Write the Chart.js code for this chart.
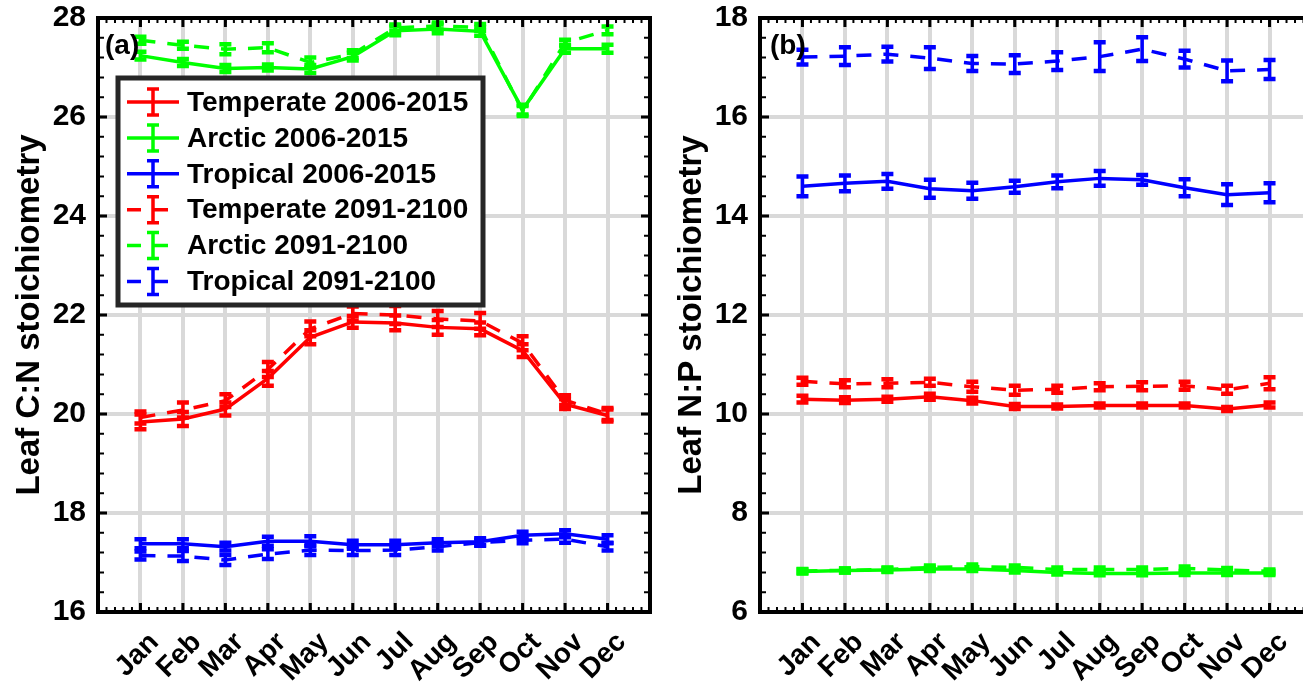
<!DOCTYPE html>
<html lang="en">
<head>
<meta charset="UTF-8">
<title>Leaf stoichiometry</title>
<script src="https://cdn.jsdelivr.net/npm/chart.js"></script>
<style>
    html, body { margin: 0; padding: 0; background: #fff; overflow: hidden; }
    .page { position: relative; width: 1303px; height: 685px; overflow: hidden; }
    .panel { position: absolute; top: 0; width: 660px; height: 685px; }
    #panelA { left: 0; }
    #panelB { left: 662px; }
</style>
</head>
<body>
<div class="page">
    <div class="panel" id="panelA"><canvas id="chartA" width="660" height="685"></canvas></div>
    <div class="panel" id="panelB"><canvas id="chartB" width="660" height="685"></canvas></div>
</div>
<script>
const months = ["Jan", "Feb", "Mar", "Apr", "May", "Jun", "Jul", "Aug", "Sep", "Oct", "Nov", "Dec"];
const seriesNames = ["Temperate 2006-2015", "Arctic 2006-2015", "Tropical 2006-2015",
                     "Temperate 2091-2100", "Arctic 2091-2100", "Tropical 2091-2100"];

// (a) leaf C:N
const cnTempNow    = [19.84, 19.90, 20.10, 20.72, 21.55, 21.86, 21.84, 21.75, 21.72, 21.28, 20.20, 19.97];
const cnTempNowErr = [0.15, 0.14, 0.13, 0.15, 0.14, 0.12, 0.15, 0.15, 0.13, 0.13, 0.10, 0.12];
const cnArcNow     = [27.24, 27.10, 26.98, 27.00, 26.97, 27.22, 27.74, 27.78, 27.73, 26.15, 27.38, 27.38];
const cnArcNowErr  = [0.08, 0.07, 0.07, 0.06, 0.08, 0.08, 0.09, 0.09, 0.09, 0.10, 0.08, 0.08];
const cnTropNow    = [17.38, 17.38, 17.32, 17.43, 17.43, 17.36, 17.36, 17.40, 17.42, 17.55, 17.58, 17.47];
const cnTropNowErr = [0.09, 0.09, 0.08, 0.09, 0.10, 0.08, 0.08, 0.07, 0.07, 0.07, 0.07, 0.08];
const cnTempFut    = [19.93, 20.08, 20.27, 20.90, 21.72, 22.03, 22.00, 21.92, 21.88, 21.43, 20.28, 20.00];
const cnTempFutErr = [0.12, 0.15, 0.13, 0.15, 0.15, 0.14, 0.18, 0.16, 0.16, 0.14, 0.10, 0.12];
const cnArcFut     = [27.55, 27.45, 27.37, 27.40, 27.10, 27.27, 27.80, 27.84, 27.81, 26.12, 27.50, 27.75];
const cnArcFutErr  = [0.07, 0.07, 0.10, 0.09, 0.10, 0.08, 0.07, 0.07, 0.07, 0.10, 0.06, 0.08];
const cnTropFut    = [17.14, 17.13, 17.05, 17.17, 17.25, 17.24, 17.25, 17.32, 17.40, 17.45, 17.47, 17.32];
const cnTropFutErr = [0.08, 0.10, 0.10, 0.10, 0.10, 0.09, 0.10, 0.08, 0.06, 0.06, 0.07, 0.08];

// (b) leaf N:P
const npTempNow    = [10.30, 10.28, 10.30, 10.35, 10.27, 10.15, 10.15, 10.17, 10.17, 10.17, 10.10, 10.18];
const npTempNowErr = [0.07, 0.06, 0.05, 0.06, 0.06, 0.05, 0.04, 0.04, 0.04, 0.04, 0.04, 0.05];
const npArcNow     = [6.82, 6.84, 6.85, 6.87, 6.87, 6.84, 6.80, 6.78, 6.78, 6.79, 6.79, 6.79];
const npArcNowErr  = [0.04, 0.04, 0.04, 0.04, 0.04, 0.04, 0.04, 0.04, 0.04, 0.04, 0.04, 0.04];
const npTropNow    = [14.60, 14.66, 14.70, 14.55, 14.51, 14.59, 14.69, 14.76, 14.73, 14.57, 14.43, 14.47];
const npTropNowErr = [0.20, 0.16, 0.15, 0.18, 0.16, 0.12, 0.13, 0.15, 0.10, 0.17, 0.21, 0.19];
const npTempFut    = [10.66, 10.61, 10.62, 10.64, 10.55, 10.48, 10.50, 10.55, 10.56, 10.57, 10.49, 10.62];
const npTempFutErr = [0.07, 0.07, 0.08, 0.07, 0.10, 0.09, 0.07, 0.07, 0.08, 0.08, 0.08, 0.12];
const npArcFut     = [6.83, 6.84, 6.86, 6.90, 6.92, 6.90, 6.86, 6.86, 6.86, 6.88, 6.85, 6.82];
const npArcFutErr  = [0.04, 0.04, 0.04, 0.04, 0.04, 0.04, 0.04, 0.04, 0.04, 0.04, 0.04, 0.04];
const npTropFut    = [17.21, 17.23, 17.27, 17.19, 17.08, 17.07, 17.13, 17.22, 17.37, 17.17, 16.93, 16.96];
const npTropFutErr = [0.15, 0.18, 0.15, 0.22, 0.15, 0.18, 0.18, 0.29, 0.24, 0.17, 0.21, 0.19];

const cnTicks = [16, 18, 20, 22, 24, 26, 28];
const npTicks = [6, 8, 10, 12, 14, 16, 18];

const RED = '#ff0000', GREEN = '#00ff00', BLUE = '#0000ff';
const DASH = [15, 12];
const FONT = "'Liberation Sans', Arial, Helvetica, sans-serif";
Chart.defaults.color = '#000';
Chart.defaults.font.family = FONT;

function makeDataset(label, values, errors, color, dashed) {
    return {
        label: label,
        data: values.map((v, i) => ({ x: i + 1, y: v })),
        errorBars: errors,
        borderColor: color,
        backgroundColor: color,
        borderWidth: 3.5,
        borderDash: dashed ? DASH : [],
        pointRadius: 0,
        tension: 0,
        fill: false
    };
}

// error bars drawn with the chart's own scales
const errorBarPlugin = {
    id: 'errorBars',
    afterDatasetsDraw(chart) {
        const { ctx, chartArea: a, scales: { x, y } } = chart;
        ctx.save();
        ctx.beginPath();
        ctx.rect(a.left, a.top, a.right - a.left, a.bottom - a.top);
        ctx.clip();
        ctx.setLineDash([]);
        chart.data.datasets.forEach((ds) => {
            if (!ds.errorBars) return;
            ctx.strokeStyle = ds.borderColor;
            ds.data.forEach((p, j) => {
                const px = x.getPixelForValue(p.x);
                const top = y.getPixelForValue(p.y + ds.errorBars[j]);
                const bot = y.getPixelForValue(p.y - ds.errorBars[j]);
                ctx.lineWidth = 3.5;
                ctx.beginPath();
                ctx.moveTo(px, top); ctx.lineTo(px, bot);
                ctx.stroke();
                ctx.lineWidth = 4.5;
                ctx.beginPath();
                ctx.moveTo(px - 6, top); ctx.lineTo(px + 6, top);
                ctx.moveTo(px - 6, bot); ctx.lineTo(px + 6, bot);
                ctx.stroke();
            });
        });
        ctx.restore();
    }
};

// black box with inward ticks, panel letter, legend
const framePlugin = {
    id: 'frame',
    afterDraw(chart, args, opts) {
        const { ctx, chartArea: a, scales: { x, y } } = chart;
        ctx.save();
        ctx.strokeStyle = '#000';
        ctx.setLineDash([]);

        ctx.lineWidth = 2;
        ctx.beginPath();
        for (let v = x.min; v <= x.max + 1e-6; v += 0.2) {
            const px = x.getPixelForValue(v);
            ctx.moveTo(px, a.bottom); ctx.lineTo(px, a.bottom - 5);
            ctx.moveTo(px, a.top); ctx.lineTo(px, a.top + 5);
        }
        for (let v = y.min; v <= y.max + 1e-6; v += 0.4) {
            const py = y.getPixelForValue(v);
            ctx.moveTo(a.left, py); ctx.lineTo(a.left + 6, py);
            ctx.moveTo(a.right, py); ctx.lineTo(a.right - 6, py);
        }
        ctx.stroke();

        ctx.lineWidth = 3;
        ctx.beginPath();
        for (let m = 1; m <= 12; m++) {
            const px = x.getPixelForValue(m);
            ctx.moveTo(px, a.bottom); ctx.lineTo(px, a.bottom - 9);
            ctx.moveTo(px, a.top); ctx.lineTo(px, a.top + 9);
        }
        opts.ticks.forEach(v => {
            const py = y.getPixelForValue(v);
            ctx.moveTo(a.left, py); ctx.lineTo(a.left + 9, py);
            ctx.moveTo(a.right, py); ctx.lineTo(a.right - 9, py);
        });
        ctx.stroke();

        ctx.lineWidth = 4;
        ctx.strokeRect(a.left, a.top, a.right - a.left, a.bottom - a.top);

        ctx.fillStyle = '#000';
        ctx.font = 'bold 28px ' + FONT;
        ctx.textAlign = 'left';
        ctx.textBaseline = 'middle';
        ctx.fillText(opts.letter, a.left + opts.letterDx, a.top + 28);

        if (opts.legend) {
            const L = opts.legend;
            ctx.fillStyle = '#fff';
            ctx.fillRect(L.x, L.y, L.w, L.h);
            ctx.strokeStyle = '#262626';
            ctx.lineWidth = 5;
            ctx.strokeRect(L.x, L.y, L.w, L.h);
            chart.data.datasets.forEach((ds, i) => {
                const ry = L.y + 24 + i * 35.9;
                const lx = L.x + 9;
                ctx.strokeStyle = ds.borderColor;
                ctx.lineWidth = 3.5;
                ctx.setLineDash(ds.borderDash.length ? [14, 13] : []);
                ctx.beginPath();
                ctx.moveTo(lx, ry); ctx.lineTo(lx + 52, ry);
                ctx.stroke();
                ctx.setLineDash([]);
                const ex = lx + 26;
                ctx.beginPath();
                ctx.moveTo(ex, ry - 13); ctx.lineTo(ex, ry + 13);
                ctx.moveTo(ex - 6, ry - 13); ctx.lineTo(ex + 6, ry - 13);
                ctx.moveTo(ex - 6, ry + 13); ctx.lineTo(ex + 6, ry + 13);
                ctx.stroke();
                ctx.fillStyle = '#000';
                ctx.font = 'bold 28px ' + FONT;
                ctx.fillText(ds.label, L.x + 69, ry + 1);
            });
        }
        ctx.restore();
    }
};

function buildChart(canvasId, datasets, yMin, yMax, yTicks, yTitle, letter, letterDx, legend) {
    return new Chart(document.getElementById(canvasId), {
        type: 'line',
        data: { datasets: datasets },
        plugins: [errorBarPlugin, framePlugin],
        options: {
            responsive: false,
            animation: false,
            layout: { padding: { top: 18, right: 10, left: 0, bottom: 0 } },
            plugins: {
                legend: { display: false },
                tooltip: { enabled: false },
                frame: { ticks: yTicks, letter: letter, letterDx: letterDx, legend: legend }
            },
            scales: {
                x: {
                    type: 'linear',
                    min: 0, max: 13,
                    border: { display: false },
                    grid: {
                        drawTicks: false,
                        lineWidth: 4,
                        color: c => (c.tick && c.tick.value >= 1 && c.tick.value <= 12) ? '#d9d9d9' : 'rgba(0,0,0,0)'
                    },
                    ticks: {
                        stepSize: 1,
                        autoSkip: false,
                        minRotation: 45,
                        maxRotation: 45,
                        padding: 14,
                        labelOffset: 14,
                        font: { size: 28, weight: 'bold' },
                        callback: v => months[v - 1] || ''
                    },
                    afterFit: s => { s.height = 73; s.paddingLeft = 0; s.paddingRight = 0; }
                },
                y: {
                    min: yMin, max: yMax,
                    border: { display: false },
                    grid: {
                        drawTicks: false,
                        lineWidth: 4,
                        color: c => (c.tick && c.tick.value > yMin && c.tick.value < yMax) ? '#d9d9d9' : 'rgba(0,0,0,0)'
                    },
                    ticks: {
                        stepSize: 2,
                        padding: 12,
                        font: { size: 30, weight: 'bold' }
                    },
                    title: {
                        display: true,
                        text: yTitle,
                        padding: { top: 10, bottom: 0 },
                        font: { size: 33, weight: 'bold' }
                    },
                    afterFit: s => { s.width = 98; s.paddingTop = 0; s.paddingBottom = 0; }
                }
            }
        }
    });
}

buildChart('chartA', [
    makeDataset(seriesNames[0], cnTempNow, cnTempNowErr, RED, false),
    makeDataset(seriesNames[1], cnArcNow, cnArcNowErr, GREEN, false),
    makeDataset(seriesNames[2], cnTropNow, cnTropNowErr, BLUE, false),
    makeDataset(seriesNames[3], cnTempFut, cnTempFutErr, RED, true),
    makeDataset(seriesNames[4], cnArcFut, cnArcFutErr, GREEN, true),
    makeDataset(seriesNames[5], cnTropFut, cnTropFutErr, BLUE, true)
], 16, 28, cnTicks, 'Leaf C:N stoichiometry', '(a)', 7, { x: 118, y: 78, w: 365, h: 227 });

buildChart('chartB', [
    makeDataset(seriesNames[0], npTempNow, npTempNowErr, RED, false),
    makeDataset(seriesNames[1], npArcNow, npArcNowErr, GREEN, false),
    makeDataset(seriesNames[2], npTropNow, npTropNowErr, BLUE, false),
    makeDataset(seriesNames[3], npTempFut, npTempFutErr, RED, true),
    makeDataset(seriesNames[4], npArcFut, npArcFutErr, GREEN, true),
    makeDataset(seriesNames[5], npTropFut, npTropFutErr, BLUE, true)
], 6, 18, npTicks, 'Leaf N:P stoichiometry', '(b)', 10, null);
</script>
</body>
</html>
